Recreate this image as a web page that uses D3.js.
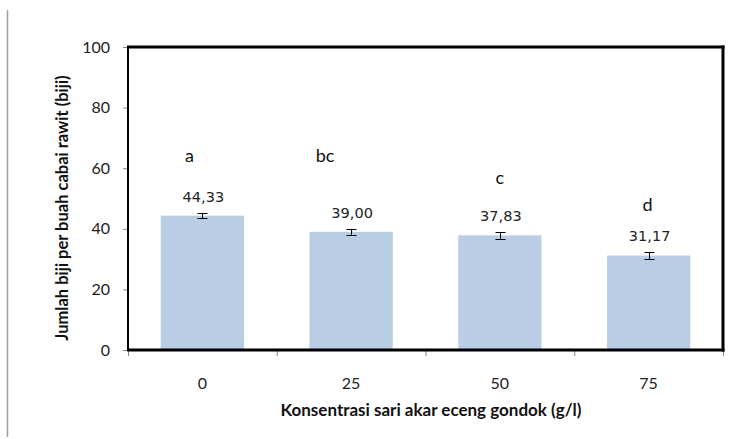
<!DOCTYPE html>
<html>
<head>
<meta charset="utf-8">
<script src="https://cdn.jsdelivr.net/npm/d3@7"></script>
<style>
  html, body { margin: 0; padding: 0; background: #fff; }
  svg { display: block; }
</style>
</head>
<body>
<svg id="chart" width="736" height="439"></svg>
<script>
// Seed count per fruit at each concentration of water hyacinth root extract
const categories = ["0", "25", "50", "75"];
const means = [44.33, 39.00, 37.83, 31.17];
const errors = [0.8, 1.0, 1.1, 1.1];
const valueLabels = ["44,33", "39,00", "37,83", "31,17"];
const groupLetters = ["a", "bc", "c", "d"];
const letterValues = [64, 64, 57, 48];
const yTicks = [0, 20, 40, 60, 80, 100];

const svg = d3.select("#chart");
const plotLeft = 128, plotRight = 723, plotTop = 47, plotBottom = 350;

const x = d3.scaleBand().domain(categories).range([plotLeft, plotRight]).paddingInner(0.44).paddingOuter(0.22);
const xTicks = d3.scaleBand().domain(categories).range([plotLeft, plotRight]);
const y = d3.scaleLinear().domain([0, 100]).range([plotBottom, plotTop]);

// thin vertical rule at the page edge
svg.append("line").attr("x1", 7.5).attr("x2", 7.5).attr("y1", 10).attr("y2", 437)
  .attr("stroke", "#a0a0a0").attr("stroke-width", 1.5);

// y axis ticks and labels
const yAxis = svg.append("g");
yAxis.selectAll("line").data(yTicks).join("line")
  .attr("x1", plotLeft - 5).attr("x2", plotLeft).attr("y1", d => y(d) + 0.5).attr("y2", d => y(d) + 0.5)
  .attr("stroke", "#888");
yAxis.selectAll("text").data(yTicks).join("text")
  .attr("x", 110).attr("y", d => y(d)).attr("dy", "0.35em")
  .attr("text-anchor", "end").attr("font-family", "Lato, 'Open Sans', sans-serif")
  .attr("font-size", 16).attr("fill", "#222").text(d => d);

// x axis ticks at category boundaries and labels
const bounds = categories.map(c => xTicks(c)).concat([plotRight]);
svg.append("g").selectAll("line").data(bounds).join("line")
  .attr("x1", d => d + 0.5).attr("x2", d => d + 0.5).attr("y1", plotBottom).attr("y2", plotBottom + 6)
  .attr("stroke", "#888");
svg.append("g").selectAll("text").data(categories).join("text")
  .attr("x", d => x(d) + x.bandwidth() / 2).attr("y", 383).attr("dy", "0.35em")
  .attr("text-anchor", "middle").attr("font-family", "Lato, 'Open Sans', sans-serif")
  .attr("font-size", 16).attr("fill", "#222").text(d => d);

// bars
svg.append("g").selectAll("rect").data(categories).join("rect")
  .attr("x", d => x(d)).attr("width", x.bandwidth())
  .attr("y", (d, i) => y(means[i])).attr("height", (d, i) => y(0) - y(means[i]))
  .attr("fill", "#b9cde5");

// error bars
const eb = svg.append("g").attr("stroke", "#000").attr("stroke-width", 1);
categories.forEach((c, i) => {
  const cx = Math.round(x(c) + x.bandwidth() / 2) + 0.5;
  const y1 = y(means[i] + errors[i]), y2 = y(means[i] - errors[i]);
  eb.append("line").attr("x1", cx).attr("x2", cx).attr("y1", y1).attr("y2", y2);
  eb.append("line").attr("x1", cx - 5).attr("x2", cx + 5).attr("y1", Math.round(y1) + 0.5).attr("y2", Math.round(y1) + 0.5);
  eb.append("line").attr("x1", cx - 5).attr("x2", cx + 5).attr("y1", Math.round(y2) + 0.5).attr("y2", Math.round(y2) + 0.5);
});

// value labels
svg.append("g").selectAll("text").data(categories).join("text")
  .attr("x", d => x(d) + x.bandwidth() / 2 + 1)
  .attr("y", (d, i) => y(means[i] + errors[i]) - 11)
  .attr("text-anchor", "middle").attr("font-family", "'DejaVu Sans', Verdana, sans-serif")
  .attr("font-size", 14.5).attr("fill", "#222").text((d, i) => valueLabels[i]);

// significance letters
const letterOffsets = [-13, -26, 0, -1];
svg.append("g").selectAll("text").data(categories).join("text")
  .attr("x", (d, i) => x(d) + x.bandwidth() / 2 + letterOffsets[i])
  .attr("y", (d, i) => y(letterValues[i])).attr("dy", "0.35em")
  .attr("text-anchor", "middle").attr("font-family", "Lato, 'Open Sans', sans-serif")
  .attr("font-size", 18).attr("fill", "#111").text((d, i) => groupLetters[i]);

// plot frame
svg.append("line").attr("x1", plotLeft).attr("x2", plotLeft).attr("y1", plotTop - 1).attr("y2", plotBottom + 1)
  .attr("stroke", "#000").attr("stroke-width", 2);
svg.append("line").attr("x1", plotLeft - 1).attr("x2", plotRight + 1.5).attr("y1", plotTop).attr("y2", plotTop)
  .attr("stroke", "#000").attr("stroke-width", 3);
svg.append("line").attr("x1", plotRight).attr("x2", plotRight).attr("y1", plotTop - 1.5).attr("y2", plotBottom + 1.5)
  .attr("stroke", "#000").attr("stroke-width", 3);
svg.append("line").attr("x1", plotLeft - 1).attr("x2", plotRight + 1.5).attr("y1", plotBottom).attr("y2", plotBottom)
  .attr("stroke", "#000").attr("stroke-width", 3);

// axis titles
svg.append("text")
  .attr("transform", `translate(62,208) rotate(-90)`)
  .attr("dy", "0.35em").attr("text-anchor", "middle")
  .attr("font-family", "Lato, 'Open Sans', sans-serif").attr("font-weight", "bold")
  .attr("font-size", 16.5).attr("fill", "#111")
  .text("Jumlah biji per buah cabai rawit (biji)");
svg.append("text")
  .attr("x", 431).attr("y", 410).attr("dy", "0.35em").attr("text-anchor", "middle")
  .attr("font-family", "Lato, 'Open Sans', sans-serif").attr("font-weight", "bold")
  .attr("font-size", 17).attr("fill", "#111")
  .text("Konsentrasi sari akar eceng gondok (g/l)");
</script>
</body>
</html>
